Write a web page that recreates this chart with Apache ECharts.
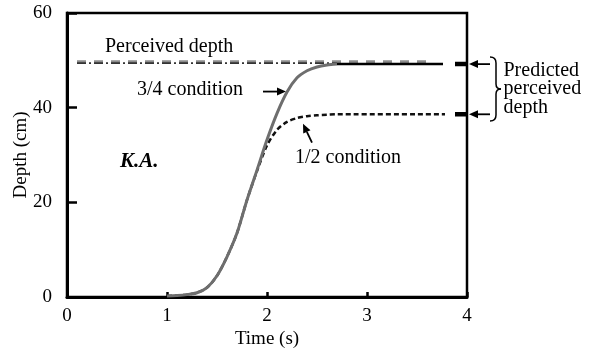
<!DOCTYPE html>
<html><head><meta charset="utf-8">
<script src="https://cdn.jsdelivr.net/npm/echarts@6/dist/echarts.min.js"></script>
<style>html,body{margin:0;padding:0;background:#fff}#c{width:591px;height:356px}</style>
</head><body><div id="c"></div>
<script>
// ---- data ----
const fitTime   = [1.0,1.1,1.2,1.3,1.4,1.5,1.6,1.7,1.8,1.9,2.0,2.1,2.2,2.3,2.4,2.5,2.6,2.7];
const cond34    = [0.2,0.3,0.5,0.9,2.0,4.5,8.5,13.5,20.5,26.8,33.2,38.8,43.3,46.3,47.8,48.6,49.0,49.2];
const halfTime  = [1.0,1.1,1.2,1.3,1.4,1.5,1.6,1.7,1.8,1.9,2.0,2.1,2.2,2.3,2.4,2.5,2.6,2.7,3.78];
const cond12    = [0.2,0.3,0.5,0.9,2.0,4.5,8.5,13.5,20.5,26.6,32.0,35.3,37.0,37.8,38.2,38.4,38.5,38.6,38.6];
const plateau34Time = [2.7, 3.76];
const plateau34     = [49.2, 49.2];
const perceivedTime = [0.1, 2.7];
const perceived     = [49.4, 49.4];
const grayDashTime  = [0.1, 3.66];
const grayDash      = [49.7, 49.7];
const predictedVals = [49.2, 38.6];
const predictedTime = [3.88, 4.0];
const xTicks = [0,1,2,3,4];
const yTicks = [0,20,40,60];

const pairs = (xs, ys) => xs.map((x,i)=>[x, ys[i]]);
const serif = '"Liberation Serif","Times New Roman",serif';

const chart = echarts.init(document.getElementById('c'));
const series = [
  {type:'line', data: pairs(grayDashTime, grayDash), symbol:'none',
   lineStyle:{color:'#8c8c8c', width:3, type:[9,8]}},
  {type:'line', data: pairs(perceivedTime, perceived), symbol:'none',
   lineStyle:{color:'#333', width:1.6, type:[9,3,2,3]}},
  {type:'line', data: pairs(halfTime, cond12), symbol:'none', smooth:0.3,
   lineStyle:{color:'#111', width:2.5, type:[5,3]}},
  {type:'line', data: pairs(fitTime, cond34), symbol:'none', smooth:0.3,
   lineStyle:{color:'#6e6e6e', width:3}},
  {type:'line', data: pairs(plateau34Time, plateau34), symbol:'none',
   lineStyle:{color:'#000', width:2.5}}
];
predictedVals.forEach(v => series.push({type:'line', data: pairs(predictedTime, [v, v]), symbol:'none',
   lineStyle:{color:'#000', width:4.5}}));

chart.setOption({
  animation:false,
  grid:{left:67, top:13, right:124, bottom:59, show:true, borderColor:'#000', borderWidth:2.5,
        containLabel:false, outerBoundsMode:'none'},
  xAxis:{type:'value', min:0, max:4, interval:1,
    name:'Time (s)', nameLocation:'middle', nameGap:33, nameMoveOverlap:false,
    nameTextStyle:{fontFamily:serif, fontSize:19, color:'#000'},
    axisLine:{lineStyle:{color:'#000', width:3}},
    axisTick:{inside:true, length:5, lineStyle:{color:'#000', width:2.5}},
    axisLabel:{margin:10, fontFamily:serif, fontSize:19, color:'#000', formatter: v => xTicks.includes(v) ? String(v) : ''},
    splitLine:{show:false}},
  yAxis:{type:'value', min:0, max:60, interval:20,
    name:'Depth (cm)', nameLocation:'middle', nameGap:36, nameRotate:90, nameMoveOverlap:false,
    nameTextStyle:{fontFamily:serif, fontSize:19, color:'#000'},
    axisLine:{lineStyle:{color:'#000', width:3}},
    axisTick:{inside:true, length:10, lineStyle:{color:'#000', width:2.5}},
    axisLabel:{margin:15, fontFamily:serif, fontSize:19, color:'#000', formatter: v => yTicks.includes(v) ? String(v) : ''},
    splitLine:{show:false}},
  series
});

// ---- annotations (positions converted from data coordinates) ----
const P = (x,y) => chart.convertToPixel({gridIndex:0}, [x,y]);
const txt = (x, y, text, extra={}) => ({type:'text', x, y, style:Object.assign({text, fontFamily:serif, fontSize:20, fill:'#000', textAlign:'left', textVerticalAlign:'middle'}, extra)});
function arrow(x1,y1,x2,y2){
  const ang = Math.atan2(y2-y1, x2-x1), L=9, W=4;
  const bx = x2 - L*Math.cos(ang), by = y2 - L*Math.sin(ang);
  const px = -Math.sin(ang)*W, py = Math.cos(ang)*W;
  return [
    {type:'line', shape:{x1, y1, x2:bx, y2:by}, style:{stroke:'#000', lineWidth:1.8}},
    {type:'polygon', shape:{points:[[x2,y2],[bx+px,by+py],[bx-px,by-py]]}, style:{fill:'#000'}}
  ];
}
const g = [];
const pPer = P(0.38, 52.8);
g.push(txt(pPer[0], pPer[1], 'Perceived depth'));
const p34 = P(0.7, 43.7);
g.push(txt(p34[0], p34[1], '3/4 condition'));
const a34s = P(1.96, 43.4), a34e = P(2.19, 43.4);
g.push(...arrow(a34s[0], a34s[1], a34e[0], a34e[1]));
const p12 = P(2.28, 29.5);
g.push(txt(p12[0], p12[1], '1/2 condition'));
const a12s = P(2.45, 32.6), a12e = P(2.36, 36.6);
g.push(...arrow(a12s[0], a12s[1], a12e[0], a12e[1]));
const pKA = P(0.53, 28.7);
g.push(txt(pKA[0], pKA[1], 'K.A.', {fontWeight:'bold', fontStyle:'italic', fontSize:21}));
predictedVals.forEach(v => {
  const s = P(4.23, v), e = P(4.02, v);
  g.push(...arrow(s[0], s[1], e[0], e[1]));
});
// brace
const bt = P(4.23, 50.7), bb = P(4.23, 37.2);
const bx = bt[0], yt = bt[1], yb = bb[1], ym = (yt+yb)/2;
const bs = {stroke:'#000', lineWidth:1.5, fill:null};
const q = (x1,y1,cx,cy,x2,y2) => ({type:'bezierCurve', shape:{x1,y1,x2,y2,cpx1:cx,cpy1:cy}, style:bs});
const l = (x1,y1,x2,y2) => ({type:'line', shape:{x1,y1,x2,y2}, style:bs});
g.push(q(bx,yt, bx+6,yt, bx+6,yt+6));
g.push(l(bx+6,yt+6, bx+6,ym-5));
g.push(q(bx+6,ym-5, bx+6,ym, bx+11,ym));
g.push(q(bx+11,ym, bx+6,ym, bx+6,ym+5));
g.push(l(bx+6,ym+5, bx+6,yb-6));
g.push(q(bx+6,yb-6, bx+6,yb, bx,yb));
const pp = P(4.365, 47.8);
g.push(txt(pp[0], pp[1], 'Predicted'));
g.push(txt(pp[0], pp[1]+18.5, 'perceived'));
g.push(txt(pp[0], pp[1]+37, 'depth'));
chart.setOption({graphic:{elements:g}});
</script>
</body></html>
